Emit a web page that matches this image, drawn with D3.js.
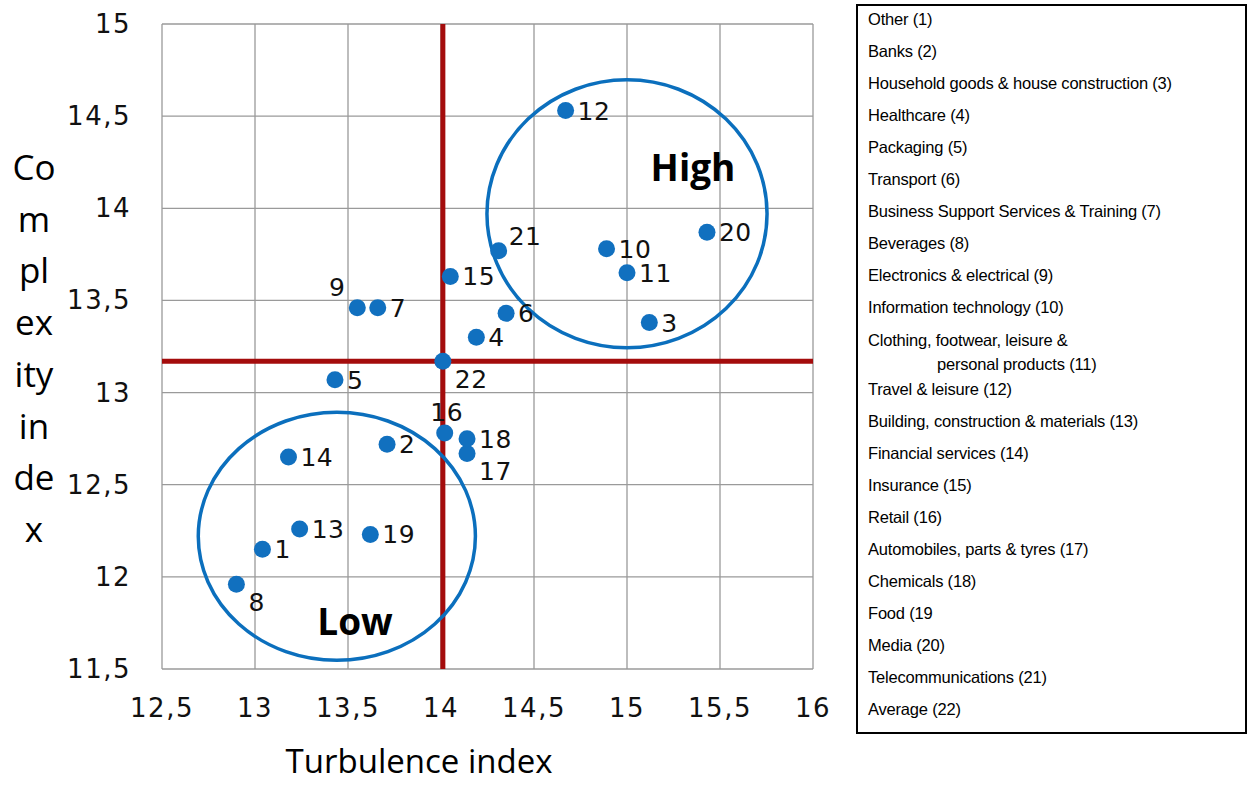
<!DOCTYPE html>
<html>
<head>
<meta charset="utf-8">
<script src="https://cdn.jsdelivr.net/npm/d3@7"></script>
<style>
  body { margin: 0; background: #fff; }
  svg { display: block; }
</style>
</head>
<body>
<div id="io"></div>
<script>
// sector numbers, turbulence (x) and complexity (y)
const IDS = [1, 2, 3, 4, 5, 6, 7, 8, 9, 10, 11, 12, 13, 14, 15, 16, 17, 18, 19, 20, 21, 22];
const TURBULENCE = [13.04, 13.71, 15.12, 14.19, 13.43, 14.35, 13.66, 12.90, 13.55, 14.89, 15.00,
  14.67, 13.24, 13.18, 14.05, 14.02, 14.14, 14.14, 13.62, 15.43, 14.31, 14.01];
const COMPLEXITY = [12.15, 12.72, 13.38, 13.30, 13.07, 13.43, 13.46, 11.96, 13.46, 13.78, 13.65,
  14.53, 12.26, 12.65, 13.63, 12.78, 12.67, 12.75, 12.23, 13.87, 13.77, 13.17];
// where each number label sits relative to its dot
const LABEL_SIDE = ['r', 'r', 'r', 'r', 'r', 'r', 'r', 'br', 'tl', 'r', 'r',
  'r', 'r', 'r', 'r', 't', 'br', 'r', 'r', 'r', 'tr', 'br'];

const SECTORS = [
  'Other (1)', 'Banks (2)', 'Household goods & house construction (3)', 'Healthcare (4)',
  'Packaging (5)', 'Transport (6)', 'Business Support Services & Training (7)', 'Beverages (8)',
  'Electronics & electrical (9)', 'Information technology (10)',
  'Clothing, footwear, leisure &|personal products (11)', 'Travel & leisure (12)',
  'Building, construction & materials (13)', 'Financial services (14)', 'Insurance (15)',
  'Retail (16)', 'Automobiles, parts & tyres (17)', 'Chemicals (18)', 'Food (19',
  'Media (20)', 'Telecommunications (21)', 'Average (22)'
];

const X_TICKS = [12.5, 13, 13.5, 14, 14.5, 15, 15.5, 16];
const Y_TICKS = [11.5, 12, 12.5, 13, 13.5, 14, 14.5, 15];

// average lines and the two group rings (centre x, centre y, radius x, radius y)
const AVG_X = 14.01, AVG_Y = 13.17;
const RINGS = [
  { name: 'High', cx: 15.0, cy: 13.97, rx: 0.753, ry: 0.727 },
  { name: 'Low', cx: 13.44, cy: 12.22, rx: 0.745, ry: 0.673 }
];

const W = 1247, H = 785;
const svg = d3.select('#io').append('svg').attr('width', W).attr('height', H);

const xScale = d3.scaleLinear().domain([12.5, 16]).range([162, 813]);
const yScale = d3.scaleLinear().domain([11.5, 15]).range([669, 24]);
const fmt = d => String(d).replace('.', ',');

// grid
svg.append('g').selectAll('line.vx').data(X_TICKS).enter().append('line')
  .attr('x1', d => xScale(d)).attr('x2', d => xScale(d))
  .attr('y1', yScale(15)).attr('y2', yScale(11.5))
  .attr('stroke', '#9a9a9a').attr('stroke-width', 1.3);
svg.append('g').selectAll('line.hy').data(Y_TICKS).enter().append('line')
  .attr('x1', xScale(12.5)).attr('x2', xScale(16))
  .attr('y1', d => yScale(d)).attr('y2', d => yScale(d))
  .attr('stroke', '#9a9a9a').attr('stroke-width', 1.3);

// tick labels
svg.append('g').selectAll('text').data(X_TICKS).enter().append('text')
  .attr('x', d => xScale(d)).attr('y', 717)
  .attr('text-anchor', 'middle')
  .style('font-family', 'DejaVu Sans').style('font-size', '26px').style('letter-spacing', '1.5px')
  .style('fill', '#111')
  .text(fmt);
svg.append('g').selectAll('text').data(Y_TICKS).enter().append('text')
  .attr('x', 131).attr('y', d => yScale(d) + 9)
  .attr('text-anchor', 'end')
  .style('font-family', 'DejaVu Sans').style('font-size', '26px').style('letter-spacing', '1.5px')
  .style('fill', '#111')
  .text(fmt);

// average lines
svg.append('line')
  .attr('x1', xScale(AVG_X)).attr('x2', xScale(AVG_X))
  .attr('y1', yScale(15)).attr('y2', yScale(11.5))
  .attr('stroke', '#a40c0c').attr('stroke-width', 5);
svg.append('line')
  .attr('x1', xScale(12.5)).attr('x2', xScale(16))
  .attr('y1', yScale(AVG_Y)).attr('y2', yScale(AVG_Y))
  .attr('stroke', '#a40c0c').attr('stroke-width', 5);

// rings
svg.append('g').selectAll('ellipse').data(RINGS).enter().append('ellipse')
  .attr('cx', d => xScale(d.cx)).attr('cy', d => yScale(d.cy))
  .attr('rx', d => xScale(d.cx + d.rx) - xScale(d.cx))
  .attr('ry', d => yScale(d.cy - d.ry) - yScale(d.cy))
  .attr('fill', 'none').attr('stroke', '#0b6fbd').attr('stroke-width', 3.5);

svg.append('text').attr('x', 693).attr('y', 181).attr('text-anchor', 'middle')
  .style('font-family', 'Open Sans').style('font-weight', 'bold').style('font-size', '37px')
  .text('High');
svg.append('text').attr('x', 355).attr('y', 635).attr('text-anchor', 'middle')
  .style('font-family', 'Open Sans').style('font-weight', 'bold').style('font-size', '37px')
  .text('Low');

// dots
const pts = IDS.map((id, i) => ({ id: id, x: TURBULENCE[i], y: COMPLEXITY[i], side: LABEL_SIDE[i] }));
svg.append('g').selectAll('circle').data(pts).enter().append('circle')
  .attr('cx', d => xScale(d.x)).attr('cy', d => yScale(d.y)).attr('r', 8.5)
  .attr('fill', '#1170bf');

const off = { r: [12, 9, 'start'], br: [12, 27, 'start'], tl: [-12, -12, 'end'],
  t: [2, -12, 'middle'], tr: [10, -6, 'start'] };
svg.append('g').selectAll('text').data(pts).enter().append('text')
  .attr('x', d => xScale(d.x) + off[d.side][0])
  .attr('y', d => yScale(d.y) + off[d.side][1])
  .attr('text-anchor', d => off[d.side][2])
  .style('font-family', 'DejaVu Sans').style('font-size', '25px').style('letter-spacing', '0.5px')
  .style('fill', '#111')
  .text(d => d.id);

// axis titles
svg.append('text').attr('x', 419).attr('y', 773).attr('text-anchor', 'middle')
  .style('font-family', 'Open Sans').style('font-size', '33px').text('Turbulence index');
const yTitle = ['Co', 'm', 'pl', 'ex', 'ity', 'in', 'de', 'x'];
svg.append('g').selectAll('text').data(yTitle).enter().append('text')
  .attr('x', 34).attr('y', (d, i) => 180 + i * 51.7).attr('text-anchor', 'middle')
  .style('font-family', 'Open Sans').style('font-size', '35px').text(d => d);

// legend box
svg.append('rect').attr('x', 857).attr('y', 5).attr('width', 389).attr('height', 728)
  .attr('fill', 'none').attr('stroke', '#000').attr('stroke-width', 2);
let rowY = 25;
SECTORS.forEach(s => {
  const parts = s.split('|');
  svg.append('text').attr('x', 868).attr('y', rowY)
    .style('font-family', 'Liberation Sans').style('font-size', '16.5px').style('letter-spacing', '-0.2px')
    .text(parts[0]);
  if (parts[1]) {
    svg.append('text').attr('x', 937).attr('y', rowY + 24)
      .style('font-family', 'Liberation Sans').style('font-size', '16.5px').style('letter-spacing', '-0.2px')
      .text(parts[1]);
    rowY += 24 + 25;
  } else {
    rowY += 32.05;
  }
});
</script>
</body>
</html>
